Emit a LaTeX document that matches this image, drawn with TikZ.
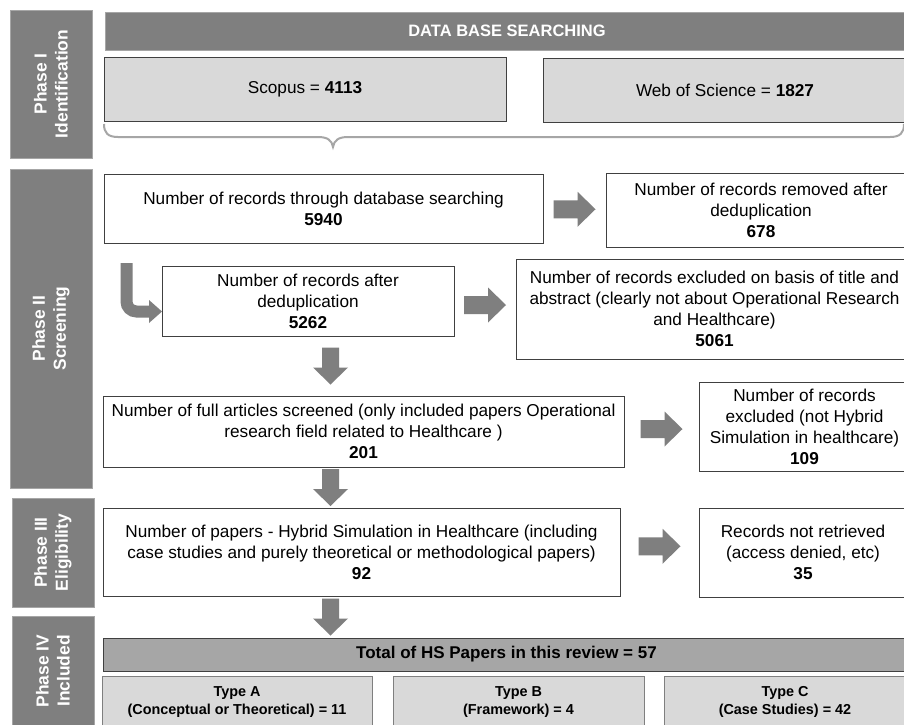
\documentclass[tikz,border=0pt]{standalone}
\usepackage{fontspec}
\setmainfont{Liberation Sans}
\usetikzlibrary{calc}

\definecolor{phasegray}{HTML}{7F7F7F}
\definecolor{phaseedge}{HTML}{A6A6A6}
\definecolor{panelgray}{HTML}{D9D9D9}
\definecolor{totalgray}{HTML}{A6A6A6}
\definecolor{edgedark}{HTML}{404040}
\definecolor{arrowgray}{HTML}{7F7F7F}
\definecolor{bracegray}{HTML}{A6A6A6}

\tikzset{
  base/.style={inner sep=0pt, outer sep=0pt, align=center, line width=1pt},
  phase/.style={base, fill=phasegray, draw=phaseedge, text=white, rotate=90,
    font=\bfseries\fontsize{17.4}{21}\selectfont},
  header/.style={base, fill=phasegray, draw=phaseedge, text=white,
    font=\bfseries\fontsize{16.5}{20}\selectfont},
  source/.style={base, fill=panelgray, draw=edgedark, font=\fontsize{17.2}{21}\selectfont},
  stepbox/.style={base, fill=white, draw=edgedark, font=\fontsize{17.2}{21}\selectfont},
  totalbar/.style={base, fill=totalgray, draw=edgedark,
    font=\bfseries\fontsize{17}{21}\selectfont},
  typebox/.style={base, fill=panelgray, draw=phasegray,
    font=\bfseries\fontsize{14.4}{17.5}\selectfont},
  % block arrow pointing right
  rblock/.pic={\fill[arrowgray] (-21,-9) -- (3,-9) -- (3,-17.5) -- (21,0)
      -- (3,17.5) -- (3,9) -- (-21,9) -- cycle;},
  % block arrow pointing down (y grows downwards here)
  dblock/.pic={\fill[arrowgray] (-8.5,-18.5) -- (8.5,-18.5) -- (8.5,1.5) -- (17.5,1.5)
      -- (0,18.5) -- (-17.5,1.5) -- (-8.5,1.5) -- (-8.5,-18.5) -- cycle;},
}

\begin{document}
\begin{tikzpicture}[x=1pt,y=-1pt]
\useasboundingbox (0,0) rectangle (904,724);
\fill[white] (0,0) rectangle (904,724);
\clip (0,0) rectangle (904,724);

% phase column
\node[phase, minimum width=148pt, minimum height=82pt] (ph1) at (51,84) {Phase I\\Identification};
\node[phase, minimum width=319pt, minimum height=82pt] (ph2) at (51,328.5) {Phase II\\Screening};
\node[phase, minimum width=109pt, minimum height=82pt] (ph3) at (53,552.5) {Phase III\\Eligibility};
\node[phase, minimum width=110pt, minimum height=82pt] (ph4) at (53,671) {Phase IV\\Included};

% identification
\node[header, minimum width=804pt, minimum height=38pt] (db) at (507,31) {DATA BASE SEARCHING};
\node[source, minimum width=402pt, minimum height=64pt] (scopus) at (305,89) {Scopus = \textbf{4113}};
\node[source, minimum width=364pt, minimum height=64pt] (wos) at (725,90) {Web of Science = \textbf{1827}};

% brace gathering both sources
\draw[bracegray, line width=2pt]
  (104,124) .. controls (104,133) and (108,137) .. (118,137) -- (318,137)
  .. controls (327,137) and (332,140) .. (333,147)
  .. controls (334,140) and (339,137) .. (348,137) -- (890,137)
  .. controls (900,137) and (904,133) .. (904,124);

% screening
\node[stepbox, minimum width=439pt, minimum height=69pt] (rec) at (323.5,208.5)
  {Number of records through database searching\\\textbf{5940}};
\node[stepbox, minimum width=310pt, minimum height=74pt] (removed) at (761,210)
  {Number of records removed after\\deduplication\\\textbf{678}};
\node[stepbox, minimum width=292pt, minimum height=70pt] (dedup) at (308,301)
  {Number of records after\\deduplication\\\textbf{5262}};
\node[stepbox, minimum width=397pt, minimum height=100pt] (excl) at (714.5,309)
  {Number of records excluded on basis of title and\\abstract (clearly not about Operational Research\\and Healthcare)\\\textbf{5061}};
\node[stepbox, minimum width=521pt, minimum height=71pt] (full) at (363.5,431.5)
  {Number of full articles screened (only included papers Operational\\research field related to Healthcare )\\\textbf{201}};
\node[stepbox, minimum width=211pt, minimum height=89pt] (nothyb) at (804.5,426.5)
  {Number of records\\excluded (not Hybrid\\Simulation in healthcare)\\\textbf{109}};

% eligibility
\node[stepbox, minimum width=517pt, minimum height=88pt] (hyb) at (361.5,552)
  {Number of papers - Hybrid Simulation in Healthcare (including\\case studies and purely theoretical or methodological papers)\\\textbf{92}};
\node[stepbox, minimum width=208pt, minimum height=89pt] (notret) at (803,552.5)
  {Records not retrieved\\(access denied, etc)\\\textbf{35}};

% included
\node[totalbar, minimum width=807pt, minimum height=33pt] (total) at (506.5,654.5)
  {Total of HS Papers in this review = 57};
\node[typebox, minimum width=270pt, minimum height=52pt] (typeA) at (237,702)
  {Type A\\(Conceptual or Theoretical) = 11};
\node[typebox, minimum width=251pt, minimum height=52pt] (typeB) at (518.5,702)
  {Type B\\(Framework) = 4};
\node[typebox, minimum width=242pt, minimum height=52pt] (typeC) at (785,702)
  {Type C\\(Case Studies) = 42};

% sideways block arrows
\pic at ($(rec.east)!.5!(removed.west)$) {rblock};
\pic at ($(dedup.east)!.5!(excl.west)$) {rblock};
\pic at ($(full.east)!.5!(nothyb.west)$) {rblock};
\coordinate (a4) at ($(hyb.east)!.5!(notret.west)$);
\pic at ($(a4)+(0,-6)$) {rblock};

% downward block arrows on a common axis
\coordinate (spine) at (330.5,0);
\coordinate (g1) at ($(dedup.south)!.5!(full.north)$);
\coordinate (g2) at ($(full.south)!.5!(hyb.north)$);
\coordinate (g3) at ($(hyb.south)!.5!(total.north)$);
\pic at (spine |- g1) {dblock};
\pic at (spine |- g2) {dblock};
\pic at (spine |- g3) {dblock};

% bent arrow into the deduplicated records
\coordinate (bendstart) at ($(rec.south west)+(22.5,20)$);
\coordinate (bendend) at ($(dedup.west)+(0,10.5)$);
\draw[arrowgray, line width=12pt, rounded corners=10pt]
  (bendstart) |- ($(bendend)+(-12,0)$);
\fill[arrowgray] ($(bendend)+(-13,-11.5)$) -- (bendend) -- ($(bendend)+(-13,11.5)$) -- cycle;
\end{tikzpicture}
\end{document}
